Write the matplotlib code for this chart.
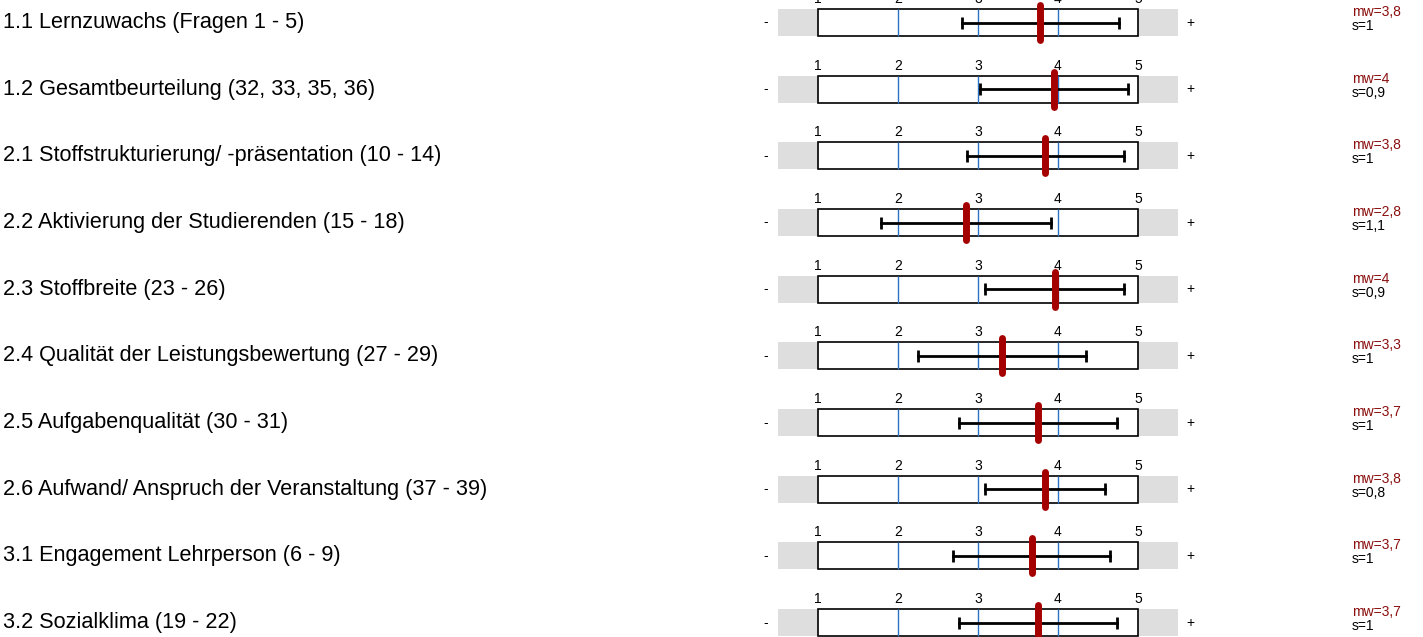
import matplotlib.pyplot as plt
import matplotlib.transforms as mtransforms

plt.rcParams['font.family'] = ['Liberation Sans', 'DejaVu Sans']

# data
labels = [
    "1.1 Lernzuwachs (Fragen 1 - 5)",
    "1.2 Gesamtbeurteilung (32, 33, 35, 36)",
    "2.1 Stoffstrukturierung/ -präsentation (10 - 14)",
    "2.2 Aktivierung der Studierenden (15 - 18)",
    "2.3 Stoffbreite (23 - 26)",
    "2.4 Qualität der Leistungsbewertung (27 - 29)",
    "2.5 Aufgabenqualität (30 - 31)",
    "2.6 Aufwand/ Anspruch der Veranstaltung (37 - 39)",
    "3.1 Engagement Lehrperson (6 - 9)",
    "3.2 Sozialklima (19 - 22)",
]
means = [3.78, 3.95, 3.84, 2.85, 3.96, 3.30, 3.75, 3.84, 3.67, 3.75]
sds = [0.98, 0.93, 0.98, 1.06, 0.87, 1.05, 0.99, 0.75, 0.98, 0.99]
mw_text = ["3,8", "4", "3,8", "2,8", "4", "3,3", "3,7", "3,8", "3,7", "3,7"]
s_text = ["1", "0,9", "1", "1,1", "0,9", "1", "1", "0,8", "1", "1"]
scale = [1, 2, 3, 4, 5]

W, H = 1423, 637
pitch = 66.67      # px between rows
first = 22.5       # px centre of first row
px = 1.0 / pitch   # one pixel in y units

fig = plt.figure(figsize=(W / 100, H / 100), dpi=100)
ax = fig.add_axes([778 / W, 0, 400 / W, 1])
ax.set_xlim(0.5, 5.5)
ax.set_ylim((H - first) / pitch, -first / pitch)
ax.axis('off')

h = 13.5 * px
lab_tr = mtransforms.blended_transform_factory(fig.transFigure, ax.transData)

for i, (lab, m, s) in enumerate(zip(labels, means, sds)):
    # grey band and white box
    ax.add_patch(plt.Rectangle((0.5, i - h), 5, 2 * h, facecolor='#dedede', edgecolor='none'))
    ax.add_patch(plt.Rectangle((1, i - h), 4, 2 * h, facecolor='white', edgecolor='black', lw=1.2))
    ax.vlines([2, 3, 4], i - h, i + h, color='#2a72c4', lw=1)
    # tick labels above box
    for k in scale:
        ax.text(k, i - h - 10 * px, str(k), ha='center', va='center', fontsize=10)
    ax.text(0.35, i, '-', ha='center', va='center', fontsize=10)
    ax.text(5.66, i, '+', ha='center', va='center', fontsize=10, clip_on=False)
    # standard deviation bar
    ax.plot([m - s, m + s], [i, i], color='black', lw=2)
    ax.vlines([m - s, m + s], i - 6 * px, i + 6 * px, color='black', lw=2)
    # mean marker
    ax.plot([m, m], [i - h - 4 * px, i + h + 4 * px], color='#a50000', lw=5,
            solid_capstyle='round')
    # left label
    ax.text(3 / W, i, lab, transform=lab_tr, ha='left', va='center', fontsize=15.6)
    # right stats
    ax.text(7.675, i - 10.5 * px, 'mw=' + mw_text[i], ha='left', va='center',
            fontsize=10, color='#8b0f0f', clip_on=False)
    ax.text(7.675, i + 3.5 * px, 's=' + s_text[i], ha='left', va='center',
            fontsize=10, color='black', clip_on=False)

fig.savefig('out.png', dpi=100)
